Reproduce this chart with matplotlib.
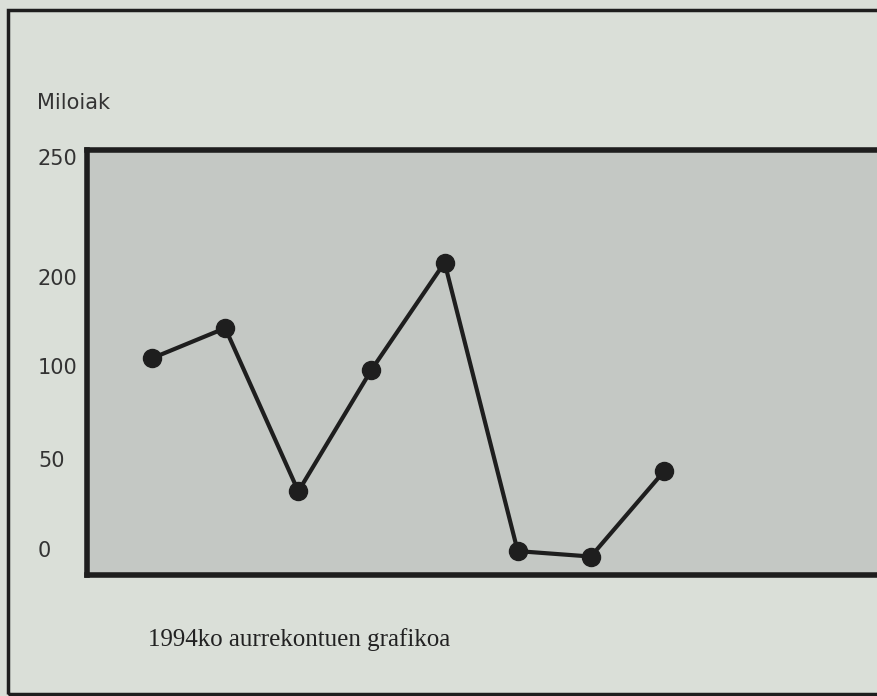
import matplotlib.pyplot as plt
import matplotlib.transforms as mtransforms
import numpy as np
from matplotlib.patches import Rectangle

# datuak (miloiak), irudiko puntuetatik irakurrita
urteak_idx = [1, 2, 3, 4, 5, 6, 7, 8]
balioak = [111, 145, 33, 99, 207, 0, -3, 44]

ytick_vals = [0, 50, 100, 200, 250]
ytick_labels = ['0', '50', '100', '200', '250']

# ardatzeko eskala ez da lineala: etiketen posizioak (pixeletan, behetik)
knot_vals = [-100, 0, 50, 100, 200, 250, 400]
knot_pos = [-182, 0, 91, 184, 273, 394, 757]

def fwd(v):
    return np.interp(v, knot_vals, knot_pos)

def inv(p):
    return np.interp(p, knot_pos, knot_vals)

W, H = 878, 696
fig = plt.figure(figsize=(W / 100, H / 100), dpi=100)
fig.patch.set_facecolor('#dadfd8')

# kanpoko markoa
fig.add_artist(Rectangle((8 / W, 2 / H), 1.2, 684 / H, transform=fig.transFigure,
                         fill=False, edgecolor='#1e1e1e', linewidth=2.5))

ax = fig.add_axes([87 / W, (H - 575) / H, 800 / W, 425 / H])
ax.set_facecolor('#c4c8c4')
ax.set_yscale('function', functions=(fwd, inv))
ax.set_ylim(inv(-24), inv(403))
ax.set_xlim(0.11, 11.05)

ax.plot(urteak_idx, balioak, color='#1e1e1e', linewidth=3,
        marker='o', markersize=13, solid_capstyle='round')

for s in ['left', 'top', 'bottom']:
    ax.spines[s].set_linewidth(4)
    ax.spines[s].set_color('#1e1e1e')
ax.spines['right'].set_visible(False)

ax.set_xticks([])
ax.set_yticks([])

# y ardatzeko etiketak, ezkerrera lerrokatuta
trans = mtransforms.blended_transform_factory(fig.transFigure, ax.transData)
for v, lbl in zip(ytick_vals, ytick_labels):
    ax.text(38 / W, v, lbl, transform=trans, fontsize=15, color='#333333',
            ha='left', va='center', clip_on=False)

fig.text(37 / W, 1 - 103 / H, 'Miloiak', fontsize=15, color='#333333', va='center')
fig.text(148 / W, 1 - 640 / H, '1994ko aurrekontuen grafikoa', fontsize=18,
         family='Liberation Serif', color='#222222', va='center')

fig.savefig('out.png', dpi=100, facecolor=fig.get_facecolor())
